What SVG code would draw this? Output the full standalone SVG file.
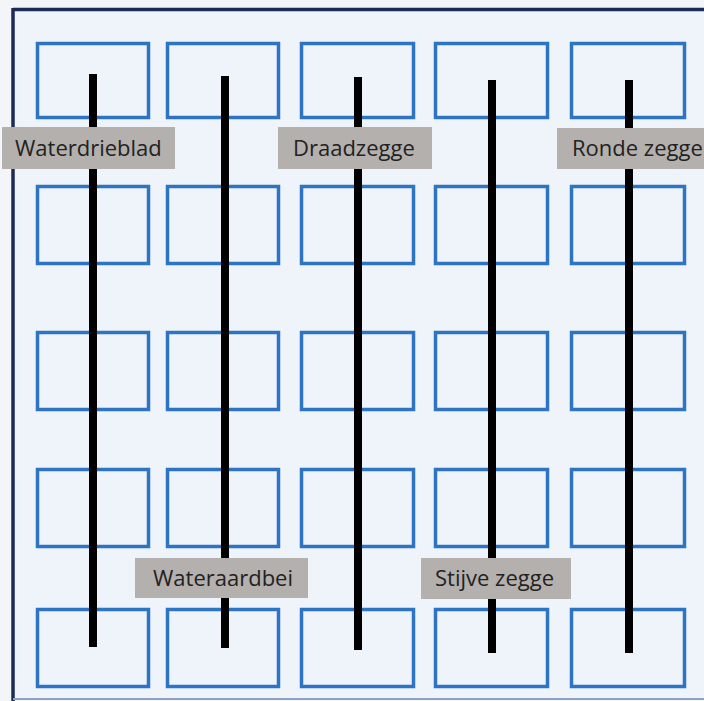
<svg xmlns="http://www.w3.org/2000/svg" width="704" height="701" viewBox="0 0 704 701">
<style>
.cell{fill:#eff4fb;stroke:#2e74c4;stroke-width:3.5}
.stem{stroke:#000;stroke-width:8;fill:none}
.lbox{fill:#b4b0ad}
.ltxt{font-family:"Open Sans","Liberation Sans",sans-serif;font-size:22px;fill:#222}
</style>
<rect x="0" y="0" width="704" height="701" fill="#f3f5f8"/>
<rect x="13" y="9.5" width="700" height="689" fill="#eff4fb"/>
<g id="frame">
<line x1="13" y1="9.5" x2="704" y2="9.5" stroke="#1b2b57" stroke-width="3.5"/>
<line x1="13" y1="8" x2="13" y2="701" stroke="#1b2b57" stroke-width="3.5"/>
<line x1="13" y1="699" x2="704" y2="699" stroke="#8ea2c4" stroke-width="2"/>
</g>
<g id="cells">
<g id="r1">
<rect class="cell" x="37.5" y="43.5" width="111" height="74"/>
<rect class="cell" x="167.5" y="43.5" width="111" height="74"/>
<rect class="cell" x="301.5" y="43.5" width="112" height="74"/>
<rect class="cell" x="435.5" y="43.5" width="112" height="74"/>
<rect class="cell" x="571.5" y="43.5" width="113" height="74"/>
</g>
<g id="r2">
<rect class="cell" x="37.5" y="186.5" width="111" height="77"/>
<rect class="cell" x="167.5" y="186.5" width="111" height="77"/>
<rect class="cell" x="301.5" y="186.5" width="112" height="77"/>
<rect class="cell" x="435.5" y="186.5" width="112" height="77"/>
<rect class="cell" x="571.5" y="186.5" width="113" height="77"/>
</g>
<g id="r3">
<rect class="cell" x="37.5" y="332.5" width="111" height="77"/>
<rect class="cell" x="167.5" y="332.5" width="111" height="77"/>
<rect class="cell" x="301.5" y="332.5" width="112" height="77"/>
<rect class="cell" x="435.5" y="332.5" width="112" height="77"/>
<rect class="cell" x="571.5" y="332.5" width="113" height="77"/>
</g>
<g id="r4">
<rect class="cell" x="37.5" y="469.5" width="111" height="77"/>
<rect class="cell" x="167.5" y="469.5" width="111" height="77"/>
<rect class="cell" x="301.5" y="469.5" width="112" height="77"/>
<rect class="cell" x="435.5" y="469.5" width="112" height="77"/>
<rect class="cell" x="571.5" y="469.5" width="113" height="77"/>
</g>
<g id="r5">
<rect class="cell" x="37.5" y="609.5" width="111" height="77"/>
<rect class="cell" x="167.5" y="609.5" width="111" height="77"/>
<rect class="cell" x="301.5" y="609.5" width="112" height="77"/>
<rect class="cell" x="435.5" y="609.5" width="112" height="77"/>
<rect class="cell" x="571.5" y="609.5" width="113" height="77"/>
</g>
</g>
<g id="connectors">
<line class="stem" x1="93" y1="74" x2="93" y2="647"/>
<line class="stem" x1="225" y1="76" x2="225" y2="648"/>
<line class="stem" x1="358" y1="77" x2="358" y2="650"/>
<line class="stem" x1="492" y1="80" x2="492" y2="653"/>
<line class="stem" x1="629" y1="80" x2="629" y2="653"/>
</g>
<g id="label-waterdrieblad">
<rect class="lbox" x="2" y="127" width="173" height="42"/>
<text class="ltxt" x="15" y="156">Waterdrieblad</text>
</g>
<g id="label-draadzegge">
<rect class="lbox" x="278" y="127" width="154" height="42"/>
<text class="ltxt" x="293" y="156">Draadzegge</text>
</g>
<g id="label-ronde-zegge">
<rect class="lbox" x="557" y="128" width="150" height="41"/>
<text class="ltxt" x="572" y="156">Ronde zegge</text>
</g>
<g id="label-wateraardbei">
<rect class="lbox" x="135" y="558" width="173" height="40"/>
<text class="ltxt" x="153" y="586">Wateraardbei</text>
</g>
<g id="label-stijve-zegge">
<rect class="lbox" x="421" y="558" width="150" height="41"/>
<text class="ltxt" x="435" y="586">Stijve zegge</text>
</g>
</svg>
